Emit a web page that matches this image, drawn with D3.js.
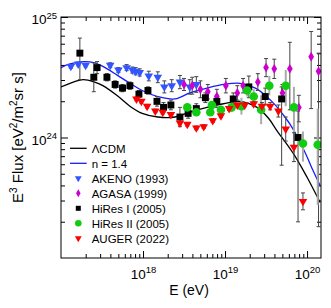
<!DOCTYPE html>
<html>
<head>
<meta charset="utf-8">
<script src="https://cdn.jsdelivr.net/npm/d3@7"></script>
<style>
  body { margin: 0; background: #fff; }
  text { font-family: "Liberation Sans", Arial, sans-serif; }
</style>
</head>
<body>
<div id="chart-container"></div>
<script>
// all values are log10(E / eV) and log10(E^3 Flux)
const lcdmE = [17.00,17.11,17.27,17.41,17.51,17.68,17.84,17.99,18.18,18.39,18.57,18.78,18.98,19.18,19.39,19.53,19.63,19.83,20.00,20.16];
const lcdmF = [24.42,24.45,24.48,24.46,24.43,24.35,24.26,24.20,24.17,24.17,24.21,24.25,24.28,24.30,24.25,24.16,24.06,23.87,23.67,23.46];

const n14E = [17.00,17.11,17.27,17.41,17.51,17.68,17.84,17.99,18.18,18.39,18.57,18.78,18.98,19.18,19.37,19.57,19.73,19.82,19.98,20.07,20.16];
const n14F = [24.58,24.61,24.63,24.62,24.59,24.52,24.45,24.39,24.34,24.32,24.37,24.41,24.44,24.45,24.41,24.30,24.17,24.08,23.87,23.73,23.60];

const akenoE = [17.12,17.21,17.30,17.60,17.70,17.80,17.87,17.91,17.96,18.07,18.18,18.26,18.35,18.45,18.57,18.65];
const akenoF = [24.59,24.61,24.60,24.60,24.56,24.58,24.56,24.55,24.54,24.51,24.50,24.42,24.43,24.46,24.42,24.44];
const akenoErr = [.015,.015,.015,.02,.02,.025,.025,.03,.03,.04,.045,.05,.05,.055,.06,.065];

const agasaE = [18.50,18.60,18.70,18.79,18.90,19.01,19.15,19.22,19.40,19.50,19.60,19.70,19.79,19.90,20.05,20.14];
const agasaF = [24.44,24.43,24.40,24.38,24.34,24.43,24.37,24.43,24.46,24.58,24.57,24.37,24.57,24.25,24.67,24.55];
const agasaErr = [.05,.07,.07,.06,.06,.06,.06,.06,.07,.075,.08,.07,[.34,.22],[.12,.1],[.43,.21],[1.29,.15]];

const hires1E = [17.23,17.40,17.44,17.56,17.66,17.75,17.84,17.95,18.06,18.17,18.25,18.34,18.45,18.55,18.65,18.76,18.90,19.10,19.29,19.49,19.69,19.89];
const hires1F = [24.70,24.50,24.58,24.50,24.44,24.41,24.43,24.36,24.39,24.30,24.25,24.27,24.17,24.20,24.24,24.33,24.30,24.32,24.42,24.34,24.32,24.00];
const hires1Err = [[.22,.125],.12,.05,.03,.03,.03,.03,.03,.03,.04,.04,.04,.08,.04,.04,.04,.05,.05,.09,.07,[.55,.1],[.7,.22]];

const hires2E = [18.54,18.65,18.82,18.84,18.95,19.08,19.20,19.27,19.35,19.44,19.54,19.74,19.84,19.95,20.13];
const hires2F = [24.25,24.21,24.21,24.27,24.23,24.25,24.26,24.39,24.34,24.23,24.43,24.43,24.25,23.95,23.94];
const hires2Err = [.03,.03,.03,.03,.03,.04,.07,.05,.06,.12,.08,[.17,.13],[.38,.17],[.15,.1],[.5,.3]];

const augerE = [17.92,17.98,18.05,18.15,18.24,18.34,18.45,18.54,18.65,18.74,18.85,18.95,19.05,19.15,19.24,19.35,19.45,19.55,19.65,19.74,19.84,19.95];
const augerF = [24.32,24.30,24.26,24.22,24.21,24.19,24.12,24.11,24.08,24.09,24.14,24.18,24.24,24.27,24.27,24.28,24.26,24.26,24.22,24.07,23.92,23.47];
const augerErr = [.015,.015,.015,.015,.015,.015,.015,.015,.015,.015,.015,.015,.015,.015,.015,.02,.03,.03,.05,.1,.12,.07];

const xMajor = [1e18, 1e19, 1e20];
const yMajor = [1e24, 1e25];

const margin = { top: 17, right: 10, bottom: 50, left: 61 };
const width = 331 - margin.left - margin.right;
const height = 308 - margin.top - margin.bottom;

const root = d3.select("#chart-container")
  .append("svg")
  .attr("width", 331)
  .attr("height", 308);

const svg = root.append("g")
  .attr("transform", `translate(${margin.left},${margin.top})`);

const x = d3.scaleLog().domain([1e17, Math.pow(10, 20.17)]).range([0, width]);
const y = d3.scaleLog().domain([1e23, 1e25]).range([height, 0]);

const p10 = v => Math.pow(10, v);

// minor ticks
const xMinor = [], yMinor = [];
[17, 18, 19].forEach(k => { for (let m = 2; m <= 9; m++) xMinor.push(m * p10(k)); });
[23, 24].forEach(k => { for (let m = 2; m <= 9; m++) yMinor.push(m * p10(k)); });

function supLabel(sel) {
  sel.each(function (d) {
    const t = d3.select(this);
    const e = Math.round(Math.log10(d));
    t.text(null);
    t.append("tspan").text("10");
    t.append("tspan").attr("dy", -5.5).style("font-size", "9.5px").text(e);
  });
}

function styleAxis(g) {
  g.select(".domain").remove();
  g.selectAll(".tick line").attr("stroke", "#000");
}

// bottom
svg.append("g").attr("transform", `translate(0,${height})`)
  .call(d3.axisBottom(x).tickValues(xMinor).tickSize(-4).tickFormat(""))
  .call(styleAxis);
svg.append("g").attr("transform", `translate(0,${height})`)
  .call(d3.axisBottom(x).tickValues(xMajor).tickSize(-7).tickPadding(11))
  .call(styleAxis)
  .selectAll(".tick text")
  .style("font-size", "13.5px")
  .attr("fill", "#000")
  .call(supLabel);
// top
svg.append("g")
  .call(d3.axisTop(x).tickValues(xMinor).tickSize(-4).tickFormat(""))
  .call(styleAxis);
svg.append("g")
  .call(d3.axisTop(x).tickValues(xMajor).tickSize(-7).tickFormat(""))
  .call(styleAxis);
// left
svg.append("g")
  .call(d3.axisLeft(y).tickValues(yMinor).tickSize(-4).tickFormat(""))
  .call(styleAxis);
svg.append("g")
  .call(d3.axisLeft(y).tickValues(yMajor).tickSize(-7).tickPadding(4))
  .call(styleAxis)
  .selectAll(".tick text")
  .style("font-size", "13.5px")
  .attr("fill", "#000")
  .attr("dy", "0.5em")
  .call(supLabel);
// right
svg.append("g").attr("transform", `translate(${width},0)`)
  .call(d3.axisRight(y).tickValues(yMinor).tickSize(-4).tickFormat(""))
  .call(styleAxis);
svg.append("g").attr("transform", `translate(${width},0)`)
  .call(d3.axisRight(y).tickValues(yMajor).tickSize(-7).tickFormat(""))
  .call(styleAxis);

svg.append("clipPath").attr("id", "clip")
  .append("rect").attr("width", width).attr("height", height);

const plot = svg.append("g").attr("clip-path", "url(#clip)");

// curves
const line = d3.line()
  .x(d => x(p10(d[0])))
  .y(d => y(p10(d[1])))
  .curve(d3.curveCatmullRom);

plot.append("path")
  .datum(lcdmE.map((e, i) => [e, lcdmF[i]]))
  .attr("fill", "none")
  .attr("stroke", "#000")
  .attr("stroke-width", 1.3)
  .attr("d", line);

plot.append("path")
  .datum(n14E.map((e, i) => [e, n14F[i]]))
  .attr("fill", "none")
  .attr("stroke", "#1a1aff")
  .attr("stroke-width", 1.3)
  .attr("d", line);

// data sets
const sets = [
  { E: akenoE, F: akenoF, err: akenoErr, color: "#3355ff", shape: d3.symbolTriangle, size: 32, rot: 180, bar: "dark" },
  { E: agasaE, F: agasaF, err: agasaErr, color: "#cc00cc", shape: d3.symbolDiamond, size: 28, rot: 0, bar: "dark" },
  { E: hires1E, F: hires1F, err: hires1Err, color: "#000", shape: d3.symbolSquare, size: 48, rot: 0, bar: "dark" },
  { E: hires2E, F: hires2F, err: hires2Err, color: "#11cc11", shape: d3.symbolCircle, size: 58, rot: 0, bar: "light" },
  { E: augerE, F: augerF, err: augerErr, color: "#ff0000", shape: d3.symbolTriangle, size: 32, rot: 180, bar: "dark" }
];

sets.forEach(s => {
  const pts = s.E.map((e, i) => {
    const er = s.err[i];
    const lo = Array.isArray(er) ? er[0] : er;
    const hi = Array.isArray(er) ? er[1] : er;
    return { e: e, f: s.F[i], lo: s.F[i] - lo, hi: s.F[i] + hi };
  });
  const g = plot.append("g");
  const stroke = s.bar === "dark" ? "#444" : "#aaa";
  const sw = s.bar === "dark" ? 1 : 2;
  g.selectAll(".bar").data(pts).enter().append("line")
    .attr("x1", d => x(p10(d.e))).attr("x2", d => x(p10(d.e)))
    .attr("y1", d => y(p10(d.lo))).attr("y2", d => y(p10(d.hi)))
    .attr("stroke", stroke).attr("stroke-width", sw);
  if (s.bar === "dark") {
    ["lo", "hi"].forEach(k => {
      g.selectAll(".cap" + k).data(pts).enter().append("line")
        .attr("x1", d => x(p10(d.e)) - 2).attr("x2", d => x(p10(d.e)) + 2)
        .attr("y1", d => y(p10(d[k]))).attr("y2", d => y(p10(d[k])))
        .attr("stroke", stroke).attr("stroke-width", 1);
    });
  }
  s.pts = pts;
});

sets.forEach(s => {
  plot.append("g").selectAll("path").data(s.pts).enter().append("path")
    .attr("transform", d => `translate(${x(p10(d.e))},${y(p10(d.f))}) rotate(${s.rot})`)
    .attr("d", d3.symbol().type(s.shape).size(s.size))
    .attr("fill", s.color);
});

// frame
svg.append("rect")
  .attr("width", width).attr("height", height)
  .attr("fill", "none").attr("stroke", "#000").attr("stroke-width", 1);

// legend
const legend = svg.append("g");
const legItems = [
  { label: "\u039BCDM", type: "line", color: "#000" },
  { label: "n = 1.4", type: "line", color: "#1a1aff" },
  { label: "AKENO (1993)", type: "sym", color: "#3355ff", shape: d3.symbolTriangle, size: 20, rot: 180 },
  { label: "AGASA (1999)", type: "sym", color: "#cc00cc", shape: d3.symbolDiamond, size: 18, rot: 0 },
  { label: "HiRes I (2005)", type: "sym", color: "#000", shape: d3.symbolSquare, size: 25, rot: 0 },
  { label: "HiRes II (2005)", type: "sym", color: "#11cc11", shape: d3.symbolCircle, size: 34, rot: 0 },
  { label: "AUGER (2022)", type: "sym", color: "#ff0000", shape: d3.symbolTriangle, size: 20, rot: 180 }
];
legItems.forEach((it, i) => {
  const cy = 131.3 + i * 15;
  if (it.type === "line") {
    legend.append("line").attr("x1", 9).attr("x2", 25.7).attr("y1", cy).attr("y2", cy)
      .attr("stroke", it.color).attr("stroke-width", 1.3);
  } else {
    legend.append("path")
      .attr("transform", `translate(17.3,${cy}) rotate(${it.rot})`)
      .attr("d", d3.symbol().type(it.shape).size(it.size))
      .attr("fill", it.color);
  }
  legend.append("text").attr("x", 30.7).attr("y", cy + 4.2)
    .style("font-size", "11.5px").text(it.label);
});

// axis titles
root.append("text")
  .attr("transform", `translate(23,137.5) rotate(-90)`)
  .style("text-anchor", "middle")
  .style("font-size", "15px")
  .html('E<tspan dy="-6" font-size="10px">3</tspan><tspan dy="6"> Flux [eV</tspan><tspan dy="-6" font-size="10px">2</tspan><tspan dy="6">/m</tspan><tspan dy="-6" font-size="10px">2</tspan><tspan dy="6">sr s]</tspan>');

root.append("text")
  .attr("x", 189).attr("y", 295)
  .style("text-anchor", "middle")
  .style("font-size", "14px")
  .text("E (eV)");
</script>
</body>
</html>
